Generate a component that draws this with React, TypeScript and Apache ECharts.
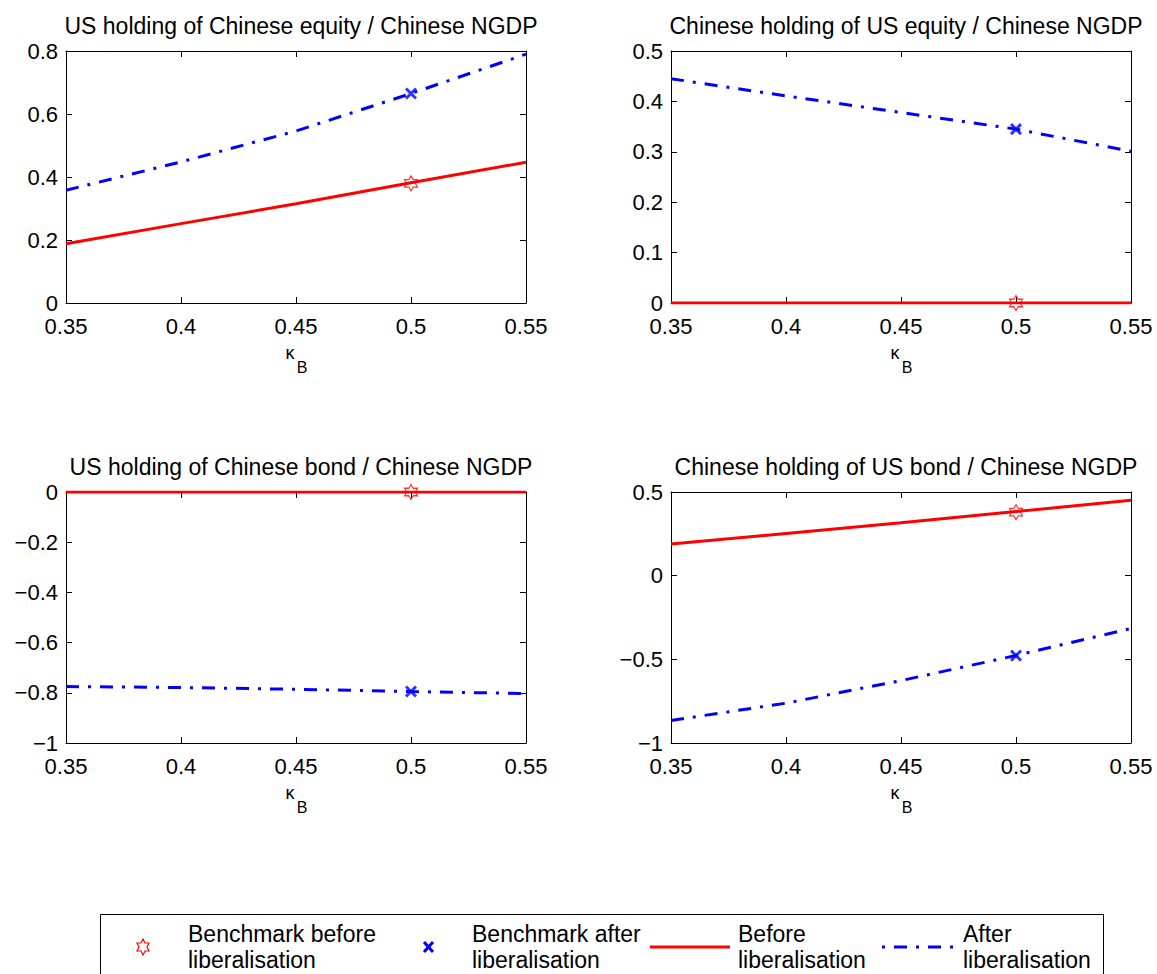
import React, { useEffect, useRef } from "react";
import * as echarts from "echarts";

// ---------- data ----------
const X_VALUES = [0.35, 0.4, 0.45, 0.5, 0.55];
const BENCH_X = 0.5;

const TITLES = [
  "US holding of Chinese equity / Chinese NGDP",
  "Chinese holding of US equity / Chinese NGDP",
  "US holding of Chinese bond / Chinese NGDP",
  "Chinese holding of US bond / Chinese NGDP",
];

const US_EQUITY_BEFORE = [0.188, 0.252, 0.315, 0.382, 0.447];
const US_EQUITY_AFTER = [0.358, 0.448, 0.546, 0.665, 0.79];
const CN_EQUITY_BEFORE = [0, 0, 0, 0, 0];
const CN_EQUITY_AFTER = [0.445, 0.411, 0.378, 0.345, 0.301];
const US_BOND_BEFORE = [0, 0, 0, 0, 0];
const US_BOND_AFTER = [-0.775, -0.779, -0.786, -0.795, -0.803];
const CN_BOND_BEFORE = [0.189, 0.252, 0.316, 0.383, 0.45];
const CN_BOND_AFTER = [-0.865, -0.762, -0.627, -0.477, -0.316];

const BEFORE_SERIES = [US_EQUITY_BEFORE, CN_EQUITY_BEFORE, US_BOND_BEFORE, CN_BOND_BEFORE];
const AFTER_SERIES = [US_EQUITY_AFTER, CN_EQUITY_AFTER, US_BOND_AFTER, CN_BOND_AFTER];

const BENCH_BEFORE = [0.38, 0, 0, 0.38];
const BENCH_AFTER = [0.665, 0.345, -0.795, -0.478];

const Y_MIN = [0, 0, -1, -1];
const Y_MAX = [0.8, 0.5, 0, 0.5];
const Y_INTERVAL = [0.2, 0.1, 0.2, 0.5];
const X_MIN = 0.35;
const X_MAX = 0.55;
const X_INTERVAL = 0.05;

const LEGEND_LABELS = [
  "Benchmark before\nliberalisation",
  "Benchmark after\nliberalisation",
  "Before\nliberalisation",
  "After\nliberalisation",
];

// ---------- layout ----------
const GRID_LEFT = [66, 671, 66, 671];
const GRID_TOP = [51, 51, 492, 492];
const GRID_W = 460;
const GRID_H = [252, 252, 251, 251];

const FONT = "'Liberation Sans', Arial, Helvetica, sans-serif";
const RED = "#ff0000";
const BLUE = "#0000ff";
const DASHDOT = [13, 9, 3, 9];

const STAR_PATH =
  "path://M0,-100L28.9,-50L86.6,-50L57.7,0L86.6,50L28.9,50L0,100L-28.9,50L-86.6,50L-57.7,0L-86.6,-50L-28.9,-50Z";
const X_PATH = "path://M-50,-50L50,50M50,-50L-50,50";

const fmtNum = (v: number) => {
  const r = parseFloat(v.toFixed(2));
  if (r === 0) return "0";
  return (r < 0 ? "\u2212" : "") + String(Math.abs(r));
};

function buildOption() {
  const grid: any[] = [];
  const xAxis: any[] = [];
  const yAxis: any[] = [];
  const series: any[] = [];
  const title: any[] = [];
  const graphic: any[] = [];

  for (let i = 0; i < 4; i++) {
    grid.push({
      left: GRID_LEFT[i],
      top: GRID_TOP[i],
      width: GRID_W,
      height: GRID_H[i],
      containLabel: false,
    });
    const common = {
      gridIndex: i,
      type: "value",
      axisLine: { show: true, onZero: false, lineStyle: { color: "#000", width: 1 } },
      axisTick: { show: true, inside: true, length: 6, lineStyle: { color: "#000" } },
      splitLine: { show: false },
    };
    xAxis.push({
      ...common,
      position: "bottom",
      min: X_MIN,
      max: X_MAX,
      interval: X_INTERVAL,
      axisLabel: {
        show: true,
        margin: 14,
        color: "#000",
        fontSize: 22,
        lineHeight: 18,
        fontFamily: FONT,
        showMinLabel: true,
        showMaxLabel: true,
        formatter: fmtNum,
      },
    });
    xAxis.push({
      ...common,
      position: "top",
      min: X_MIN,
      max: X_MAX,
      interval: X_INTERVAL,
      axisLabel: { show: false },
    });
    yAxis.push({
      ...common,
      position: "left",
      min: Y_MIN[i],
      max: Y_MAX[i],
      interval: Y_INTERVAL[i],
      axisLabel: {
        show: true,
        margin: 8,
        color: "#000",
        fontSize: 22,
        lineHeight: 18,
        fontFamily: FONT,
        showMinLabel: true,
        showMaxLabel: true,
        formatter: fmtNum,
      },
    });
    yAxis.push({
      ...common,
      position: "right",
      min: Y_MIN[i],
      max: Y_MAX[i],
      interval: Y_INTERVAL[i],
      axisLabel: { show: false },
    });

    const ax = 2 * i;
    series.push({
      type: "line",
      xAxisIndex: ax,
      yAxisIndex: ax,
      data: X_VALUES.map((x, k) => [x, BEFORE_SERIES[i][k]]),
      symbol: "none",
      lineStyle: { color: RED, width: 3 },
      z: 2,
    });
    series.push({
      type: "line",
      xAxisIndex: ax,
      yAxisIndex: ax,
      data: X_VALUES.map((x, k) => [x, AFTER_SERIES[i][k]]),
      symbol: "none",
      lineStyle: { color: BLUE, width: 3, type: DASHDOT },
      z: 2,
    });
    series.push({
      type: "scatter",
      xAxisIndex: ax,
      yAxisIndex: ax,
      data: [[BENCH_X, BENCH_BEFORE[i]]],
      symbol: STAR_PATH,
      symbolSize: [13, 15],
      itemStyle: { color: "rgba(0,0,0,0)", borderColor: RED, borderWidth: 1.2 },
      z: 5,
    });
    series.push({
      type: "scatter",
      xAxisIndex: ax,
      yAxisIndex: ax,
      data: [[BENCH_X, BENCH_AFTER[i]]],
      symbol: X_PATH,
      symbolSize: 10,
      itemStyle: { color: BLUE, borderColor: BLUE, borderWidth: 3 },
      z: 5,
    });

    const cx = GRID_LEFT[i] + GRID_W / 2;
    const bottom = GRID_TOP[i] + GRID_H[i];
    title.push({
      text: TITLES[i],
      left: cx,
      top: GRID_TOP[i] - 42,
      textAlign: "center",
      textStyle: { fontSize: 23, fontWeight: "normal", color: "#000", fontFamily: FONT },
    });
    graphic.push({
      type: "text",
      x: cx - 6,
      y: bottom + 50,
      style: {
        text: "\u03ba",
        fontSize: 18,
        fontFamily: FONT,
        fill: "#000",
        align: "center",
        verticalAlign: "middle",
      },
    });
    graphic.push({
      type: "text",
      x: cx + 6,
      y: bottom + 64,
      style: {
        text: "B",
        fontSize: 16,
        fontFamily: FONT,
        fill: "#000",
        align: "center",
        verticalAlign: "middle",
      },
    });
  }

  // ---------- legend box ----------
  const ly = 947;
  graphic.push({
    type: "rect",
    shape: { x: 100.5, y: 914.5, width: 1003, height: 80 },
    style: { fill: "#fff", stroke: "#000", lineWidth: 1 },
    z: 10,
  });
  // hexagram
  const hexPts: number[][] = [];
  for (let k = 0; k < 12; k++) {
    const ang = (-90 + k * 30) * (Math.PI / 180);
    const r = k % 2 === 0 ? 8 : 8 / Math.sqrt(3);
    hexPts.push([143 + r * Math.cos(ang) * 0.87, ly + r * Math.sin(ang)]);
  }
  graphic.push({
    type: "polygon",
    shape: { points: hexPts },
    style: { fill: "none", stroke: RED, lineWidth: 1.2 },
    z: 11,
  });
  // x mark
  graphic.push({
    type: "line",
    shape: { x1: 424, y1: ly - 5, x2: 433, y2: ly + 5 },
    style: { stroke: BLUE, lineWidth: 3 },
    z: 11,
  });
  graphic.push({
    type: "line",
    shape: { x1: 433, y1: ly - 5, x2: 424, y2: ly + 5 },
    style: { stroke: BLUE, lineWidth: 3 },
    z: 11,
  });
  // red solid
  graphic.push({
    type: "line",
    shape: { x1: 650, y1: ly, x2: 730, y2: ly },
    style: { stroke: RED, lineWidth: 3 },
    z: 11,
  });
  // blue dash-dot
  graphic.push({
    type: "line",
    shape: { x1: 882, y1: ly, x2: 955, y2: ly },
    style: { stroke: BLUE, lineWidth: 3, lineDash: DASHDOT, lineDashOffset: 22 },
    z: 11,
  });
  const textX = [188, 472, 738, 963];
  for (let k = 0; k < 4; k++) {
    graphic.push({
      type: "text",
      x: textX[k],
      y: ly,
      style: {
        text: LEGEND_LABELS[k],
        fontSize: 23,
        lineHeight: 26,
        fontFamily: FONT,
        fill: "#000",
        align: "left",
        verticalAlign: "middle",
      },
      z: 11,
    });
  }

  return {
    animation: false,
    backgroundColor: "#fff",
    title,
    grid,
    xAxis,
    yAxis,
    series,
    graphic,
  };
}

export default function App() {
  const ref = useRef<HTMLDivElement>(null);
  useEffect(() => {
    document.body.style.margin = "0";
    if (!ref.current) return;
    const chart = echarts.init(ref.current, undefined, { renderer: "svg" });
    chart.setOption(buildOption() as any);
    return () => chart.dispose();
  }, []);
  return <div ref={ref} style={{ width: 1157, height: 974 }} />;
}
